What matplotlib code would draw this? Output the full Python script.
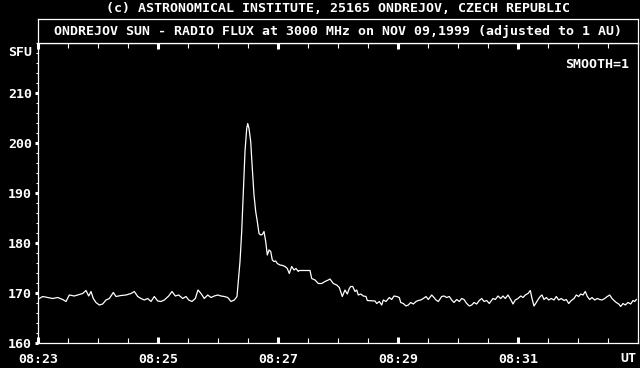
import matplotlib
matplotlib.use("Agg")
import matplotlib.pyplot as plt
from matplotlib.ticker import MultipleLocator, FixedLocator

# seconds after 08:23:00 UT, flux in SFU
t_sec = [1.3, 4.7, 9.7, 14.7, 19.7, 24.7, 28, 31.3, 36.3, 39.7, 44.7, 48, 50.7, 53, 55.3,
         58, 61.3, 64.7, 68, 71.3, 75.3, 78, 83, 88, 93, 96.3, 99.7, 103, 106.3, 109.7,
         113, 116.3, 119.7, 123, 126.3, 130.7, 134, 137.3, 140.7, 144.7, 148, 150.7, 154,
         157.3, 160, 163, 166.3, 169.7, 173, 176.3, 179.7, 183, 186.3, 189.7, 193, 196.3, 199,
         200.3, 202, 203.7, 205.3, 207, 208.7, 209.7, 211, 212.7, 214.3, 216, 217.7, 219.3,
         221, 222.7, 224.3, 226, 227.7, 229.3, 231, 232.7, 234.3, 236, 237.7, 239.3, 242,
         244.7, 247, 249.3, 251.3, 253.7, 256, 258, 260.3, 261, 272, 273.7, 277, 280.3,
         283.7, 287, 290.3, 292, 295.3, 298.7, 301.3,
         304.3, 307, 309.3, 311.3, 312.7, 314.7, 317, 318.7, 320.3, 322.7, 325.3, 328,
         329.3, 337, 338.7, 341.3, 343.7, 345.3, 348, 351.3, 353.7, 356, 358.7, 361.3,
         362.7, 365.3, 368, 370.3, 372.7, 375.3, 378, 380.3, 382.7, 385.3, 388, 390.3,
         393.7, 396, 398, 400.3, 403.7, 406, 408.7, 411.3, 413.7, 416, 418.7, 421.3, 423.7,
         426, 428.7, 431.3, 433.7, 436, 438.7, 441.3, 443.7, 446, 448.7, 451.3,
         452.7, 455, 457.3, 460, 462.7, 465, 467.3, 470, 472.7, 475, 477.3, 480, 482.7,
         485, 487.3, 490, 492.3, 494, 496, 498.3, 500.7, 502.7, 504, 506, 508.3, 510.7,
         513.3, 516, 518.3, 520.7, 523.3, 526, 528.3, 530.7, 533.3, 536, 538.3, 540.7,
         542.7, 545, 547.3, 549.3, 551.7, 554, 556.7, 559.3, 561.7, 564, 566.7, 569.3,
         571.7, 574, 576, 578.3, 580.7, 582.7, 585, 587.3, 590, 592.7, 595, 596.7, 598.3]
sfu = [168.9, 169.3, 169.1, 168.9, 169.1, 168.7, 168.3, 169.6, 169.4, 169.6, 169.9, 170.5,
       169.4, 170.3, 168.9, 168.1, 167.6, 167.8, 168.6, 168.9, 170.1, 169.3, 169.5, 169.6,
       169.9, 170.3, 169.3, 168.9, 168.6, 168.9, 168.3, 169.3, 168.4, 168.3, 168.6, 169.4,
       170.3, 169.4, 169.6, 168.9, 169.3, 168.6, 168.3, 168.9, 170.6, 169.9, 168.9, 169.6,
       169.1, 169.4, 169.6, 169.4, 169.3, 169.1, 168.3, 168.6, 169.3,
       172.3, 176.3, 182.3, 190.3, 198.3, 202.9, 203.9, 202.9, 200.3, 194.9, 189.6, 186.3,
       184.3, 181.9, 181.6, 181.7, 182.3, 180.3, 177.6, 178.6, 178.3, 176.6, 176.3, 176.4,
       175.9, 175.6, 175.5, 175.3, 174.9, 173.9, 175.3, 174.6, 174.9, 174.3, 174.5, 174.5,
       172.9, 172.6, 171.9, 171.9, 172.3, 172.6, 172.8, 171.9, 171.6, 171.1,
       169.3, 170.6, 169.8, 170.9, 171.3, 171.3, 170.3, 170.6, 169.6, 169.8, 169.4, 169.3,
       168.5, 168.4, 167.9, 168.3, 167.6, 168.6, 168.3, 169.1, 168.7, 169.4, 169.3, 169.1,
       168.1, 167.9, 167.4, 167.6, 168.1, 167.8, 168.3, 168.5, 168.6, 168.9, 169.3, 168.7,
       169.6, 169.1, 168.6, 168.3, 169.3, 169.4, 169.1, 169.3, 168.6, 168.1, 168.7, 168.3,
       168.9, 168.7, 167.9, 167.4, 167.6, 168.1, 167.8, 168.5, 168.9, 168.3, 168.5, 167.9,
       168.3, 168.9, 168.7, 169.4, 168.9, 169.4, 168.9, 169.6, 168.7, 167.8, 168.6, 168.9,
       169.4, 169.1, 169.6, 169.9, 170.5, 168.9, 167.4, 168.1, 168.9, 169.4, 169.6, 168.7,
       169.1, 168.6, 168.9, 168.6, 169.3, 168.6, 168.9, 168.5, 168.7, 167.9, 168.5, 168.9,
       169.6, 169.3, 169.8, 169.6, 170.3, 169.3, 168.7, 169.1, 168.6, 168.9, 168.7, 168.6,
       168.9, 169.3, 169.6, 168.9, 168.5, 168.1, 167.8, 167.3, 167.9, 167.6, 168.1, 167.8,
       168.5, 168.3, 168.7]

x_ticks = [0, 120, 240, 360, 480]
x_labels = ["08:23", "08:25", "08:27", "08:29", "08:31"]
y_ticks = [160, 170, 180, 190, 200, 210]

FONT = "DejaVu Sans Mono"
FS = 9.5
W, H = 640, 368

fig = plt.figure(figsize=(6.4, 3.68), dpi=100, facecolor="black")

# main plotting area: x 38..638 px, y 43..343 px
ax = fig.add_axes([38 / W, (H - 343) / H, 600 / W, 300 / H], facecolor="black")
ax.plot(t_sec, sfu, color="white", lw=0.9)
ax.set_xlim(0, 600)
ax.set_ylim(160, 220)

for s in ["left", "bottom", "top", "right"]:
    ax.spines[s].set_color("white")
    ax.spines[s].set_linewidth(0.9)

ax.xaxis.set_major_locator(FixedLocator(x_ticks))
ax.set_xticklabels(x_labels, fontfamily=FONT, fontsize=FS, fontweight="bold", color="white")
ax.xaxis.set_minor_locator(MultipleLocator(30))
ax.tick_params(axis="x", which="both", direction="in", top=True, bottom=True,
               colors="white", pad=7)
ax.tick_params(axis="x", which="major", length=4, width=2.2)
ax.tick_params(axis="x", which="minor", length=3.5, width=0.8)

ax.set_yticks(y_ticks)
ax.set_yticklabels([str(v) for v in y_ticks], fontfamily=FONT, fontsize=FS,
                   fontweight="bold", color="white")
ax.yaxis.set_minor_locator(MultipleLocator(2))
ax.tick_params(axis="y", which="both", direction="out", left=True, right=False,
               colors="white", pad=2)
ax.tick_params(axis="y", which="major", length=2.2, width=2.2)
ax.tick_params(axis="y", which="minor", length=1.8, width=0.8)

ax.text(0.985, 0.93, "SMOOTH=1", transform=ax.transAxes, ha="right", va="center",
        fontfamily=FONT, fontsize=FS, fontweight="bold", color="white")

# title box
tax = fig.add_axes([38 / W, (H - 43) / H, 600 / W, 24 / H], facecolor="black")
tax.set_xticks([])
tax.set_yticks([])
for s in tax.spines.values():
    s.set_color("white")
    s.set_linewidth(0.9)
tax.text(0.5, 0.5, "ONDREJOV SUN - RADIO FLUX at 3000 MHz on NOV 09,1999 (adjusted to 1 AU)",
         transform=tax.transAxes, ha="center", va="center",
         fontfamily=FONT, fontsize=FS, fontweight="bold", color="white")

fig.text(338 / W, 1 - 9 / H, "(c) ASTRONOMICAL INSTITUTE, 25165 ONDREJOV, CZECH REPUBLIC",
         ha="center", va="center", fontfamily=FONT, fontsize=FS, fontweight="bold",
         color="white")
fig.text(32 / W, 1 - 52 / H, "SFU", ha="right", va="center", fontfamily=FONT,
         fontsize=FS, fontweight="bold", color="white")
fig.text(636 / W, 1 - 358 / H, "UT", ha="right", va="center", fontfamily=FONT,
         fontsize=FS, fontweight="bold", color="white")

fig.savefig("out.png", dpi=100, facecolor="black")
